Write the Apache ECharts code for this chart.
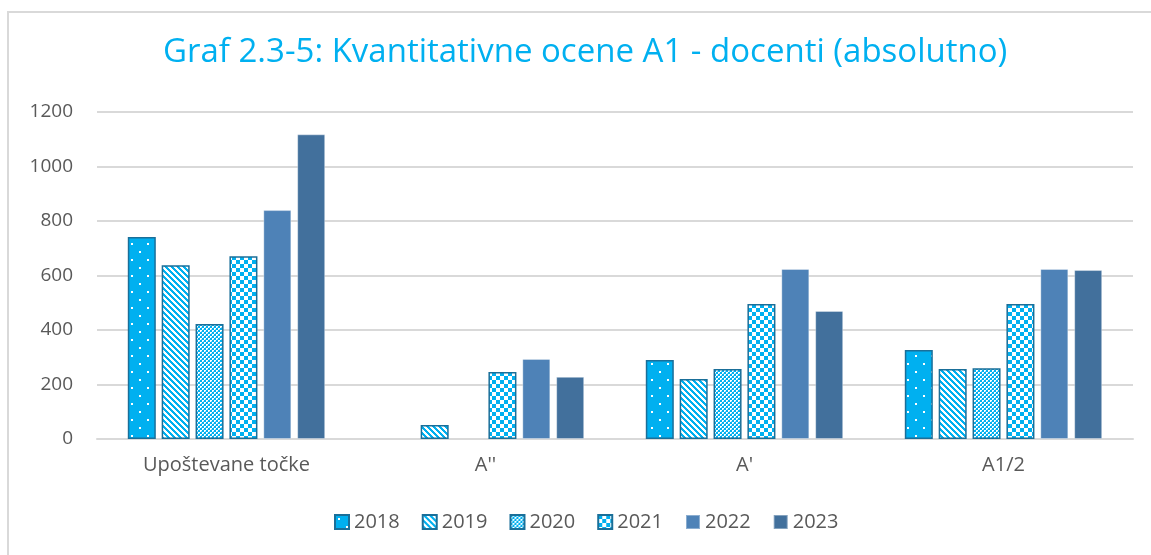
<!DOCTYPE html>
<html>
<head>
<meta charset="utf-8">
<script src="https://cdn.jsdelivr.net/npm/echarts@6/dist/echarts.min.js"></script>
<style>
  html, body { margin: 0; padding: 0; background: #fff; }
  #frame { position: absolute; left: 7px; top: 11px; width: 1200px; height: 600px; border: 2px solid #d9d9d9; }
  #chart { position: absolute; left: 0; top: 0; width: 1151px; height: 555px; }
</style>
</head>
<body>
<div id="frame"></div>
<div id="chart"></div>
<script>
var categories = ['Upoštevane točke', "A''", "A'", 'A1/2'];
var years = ['2018', '2019', '2020', '2021', '2022', '2023'];
// null = no bar shown in the picture
var v2018 = [741, null, 290, 327];
var v2019 = [638, 51, 220, 257];
var v2020 = [422, null, 257, 260];
var v2021 = [671, 246, 495, 495];
var v2022 = [840, 294, 624, 624];
var v2023 = [1118, 228, 470, 620];
var yTicks = { min: 0, max: 1200, interval: 200 };

var blue = '#00b0f0';
var edge = '#1a6f99';
var font = 'Open Sans';

function tile(w, h, draw) {
  var c = document.createElement('canvas');
  c.width = w; c.height = h;
  var ctx = c.getContext('2d');
  draw(ctx);
  return { image: c, repeat: 'repeat' };
}

// dotted
var pat2018 = tile(16, 16, function (ctx) {
  ctx.fillStyle = blue; ctx.fillRect(0, 0, 16, 16);
  ctx.fillStyle = '#fff';
  ctx.fillRect(3, 3, 2, 2);
  ctx.fillRect(11, 11, 2, 2);
});
// diagonal stripes
var pat2019 = tile(6, 6, function (ctx) {
  ctx.fillStyle = '#fff'; ctx.fillRect(0, 0, 6, 6);
  ctx.fillStyle = blue;
  for (var y = 0; y < 6; y++) {
    for (var k = 0; k < 3; k++) {
      ctx.fillRect((y + k) % 6, y, 1, 1);
    }
  }
});
// fine checker
var pat2020 = tile(4, 4, function (ctx) {
  ctx.fillStyle = '#fff'; ctx.fillRect(0, 0, 4, 4);
  ctx.fillStyle = blue;
  ctx.fillRect(0, 0, 2, 2);
  ctx.fillRect(2, 2, 2, 2);
  ctx.fillStyle = '#7fd7f7';
  ctx.fillRect(1, 3, 1, 1);
  ctx.fillRect(3, 1, 1, 1);
});
// larger checker
var pat2021 = tile(8, 8, function (ctx) {
  ctx.fillStyle = '#fff'; ctx.fillRect(0, 0, 8, 8);
  ctx.fillStyle = blue;
  ctx.fillRect(0, 0, 4, 4);
  ctx.fillRect(4, 4, 4, 4);
});

var fills = [pat2018, pat2019, pat2020, pat2021, '#4e82b7', '#42709c'];
var values = [v2018, v2019, v2020, v2021, v2022, v2023];

var series = years.map(function (y, i) {
  var patterned = i < 4;
  return {
    name: y,
    type: 'bar',
    data: values[i],
    barWidth: 28,
    barGap: '21%',
    itemStyle: {
      color: fills[i],
      borderColor: patterned ? edge : 'rgba(255,255,255,0.35)',
      borderWidth: patterned ? 1.5 : 1
    }
  };
});

var chart = echarts.init(document.getElementById('chart'));
chart.setOption({
  animation: false,
  textStyle: { fontFamily: font },
  title: {
    text: 'Graf 2.3-5: Kvantitativne ocene A1 - docenti (absolutno)',
    left: 158,
    top: 31,
    textStyle: { color: '#00b0f0', fontSize: 33, fontWeight: 'normal', fontFamily: font }
  },
  legend: {
    bottom: 18,
    left: 329,
    itemWidth: 14,
    itemHeight: 14,
    itemGap: 22,
    textStyle: { color: '#595959', fontSize: 20, fontFamily: font },
    data: years.map(function (y) { return { name: y, icon: 'rect' }; })
  },
  grid: { left: 97, right: 18, top: 112, bottom: 116, containLabel: false },
  xAxis: {
    type: 'category',
    data: categories,
    axisLine: { lineStyle: { color: '#d9d9d9', width: 2 } },
    axisTick: { show: false },
    axisLabel: { color: '#595959', fontSize: 20, margin: 16, fontFamily: font }
  },
  yAxis: {
    type: 'value',
    min: yTicks.min,
    max: yTicks.max,
    interval: yTicks.interval,
    axisLine: { show: false },
    axisTick: { show: false },
    splitLine: { lineStyle: { color: '#d9d9d9', width: 2 } },
    axisLabel: {
      color: '#595959', fontSize: 19, margin: 24, fontFamily: font,
      formatter: function (v) { return String(v); }
    }
  },
  series: series
});
</script>
</body>
</html>
